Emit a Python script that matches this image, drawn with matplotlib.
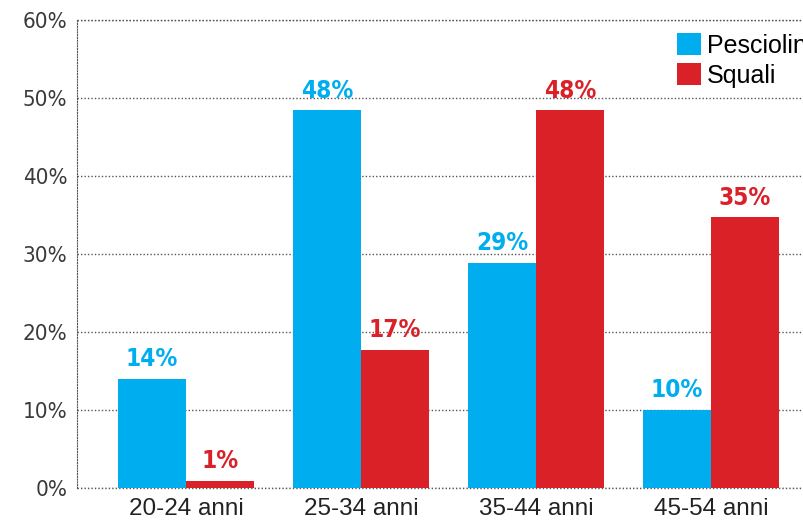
import numpy as np
import matplotlib.pyplot as plt

categories = ['20-24 anni', '25-34 anni', '35-44 anni', '45-54 anni']
pesciolini = [14.0, 48.4, 28.9, 10.0]
squali = [0.9, 17.7, 48.4, 34.7]
pesciolini_labels = ['14%', '48%', '29%', '10%']
squali_labels = ['1%', '17%', '48%', '35%']
series_names = ['Pesciolini', 'Squali']

blue = '#00AEEF'
red = '#DA2128'
plt.rcParams['font.family'] = ['Liberation Sans', 'DejaVu Sans']

fig = plt.figure(figsize=(8.04, 5.2), dpi=100)
ax = fig.add_axes([77 / 804, 32 / 520, (804 - 77) / 804, 468 / 520])

x = np.arange(len(categories))
w = 0.389
b1 = ax.bar(x - w / 2, pesciolini, w, color=blue, zorder=3, label=series_names[0])
b2 = ax.bar(x + w / 2, squali, w, color=red, zorder=3, label=series_names[1])

for bars, labels, col in [(b1, pesciolini_labels, blue), (b2, squali_labels, red)]:
    for rect, lab in zip(bars, labels):
        ax.text(rect.get_x() + rect.get_width() / 2, rect.get_height() + 1.0, lab,
                ha='center', va='bottom', color=col, fontsize=17.5, fontweight='bold',
                family='DejaVu Sans', fontstretch='condensed', zorder=4)

ax.set_xlim(-0.623, 3 + 93 / 175)
ax.set_ylim(0, 60)
ax.set_yticks(range(0, 61, 10))
ax.set_yticklabels([f'{v}%' for v in range(0, 61, 10)], family='DejaVu Sans',
                   fontstretch='condensed', fontsize=16, color='#3a3a3a')
ax.set_xticks(x)
ax.set_xticklabels(categories, fontsize=17.5, color='#222222')
ax.tick_params(axis='both', length=0)
ax.tick_params(axis='y', pad=7)
ax.tick_params(axis='x', pad=7)

ax.grid(axis='y', linestyle=(0, (1, 1.5)), color='#555555', linewidth=1, zorder=0)
ax.axhline(0, linestyle=(0, (1, 1.5)), color='#555555', linewidth=1, zorder=1,
           clip_on=False)
ax.axhline(60, linestyle=(0, (1, 1.5)), color='#555555', linewidth=1, zorder=1,
           clip_on=False)
for s in ['top', 'right', 'bottom']:
    ax.spines[s].set_visible(False)
ax.spines['left'].set_linestyle((0, (1, 1.5)))
ax.spines['left'].set_color('#555555')

ax.legend(loc='upper left', bbox_to_anchor=(0.825, 0.972), frameon=False,
          fontsize=18, handlelength=0.95, handleheight=1.0, handletextpad=0.25,
          labelspacing=0.2, borderaxespad=0, borderpad=0)

fig.savefig('out.png', dpi=100)
